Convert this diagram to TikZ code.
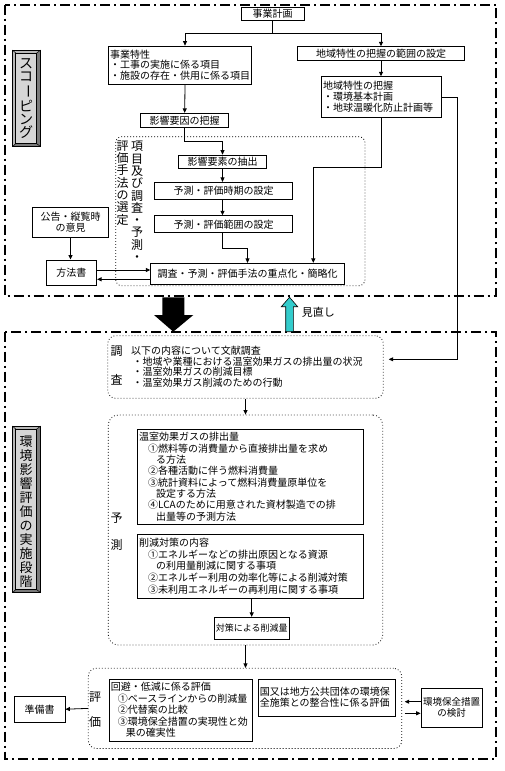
\documentclass[tikz,border=0pt]{standalone}
\usepackage{fontspec}
\setmainfont{Noto Sans CJK JP}
\usetikzlibrary{arrows.meta,calc}
\definecolor{cyanarrow}{HTML}{33CCCC}
\definecolor{bevlight}{HTML}{B8B8B8}
\definecolor{bevdark}{HTML}{7A7A7A}
\definecolor{bevface}{HTML}{D6D6D6}
\begin{document}
\begin{tikzpicture}[x=1pt,y=-1pt,
  box/.style={draw,line width=0.8pt,inner sep=1.5pt,font=\fontsize{10}{11}\selectfont,align=center},
  lbox/.style={box,align=left},
  arr/.style={line width=0.8pt,-{Triangle[length=4.5pt,width=4pt]}},
  ln/.style={line width=0.8pt},
  outerdash/.style={line width=1.6pt,dash pattern=on 10pt off 4pt on 2pt off 4pt},
  dotnode/.style={draw,line width=0.8pt,dash pattern=on 0.8pt off 2.2pt,rounded corners=8pt,inner sep=0pt},
  vt/.style={inner sep=0pt,align=center},
  side/.style={inner sep=0pt,align=center,font=\fontsize{12}{12}\selectfont}
]
\useasboundingbox (0,0) rectangle (505,771);

% ---------- outer frames ----------
\draw[outerdash] (5,4.7) rectangle (496,296);
\draw[outerdash] (5,331.7) rectangle (496,758.7);

% ---------- bevel labels ----------
\fill[bevlight] (12.3,50) -- (40.7,50) -- (36.7,53) -- (15.7,53) -- (15.7,143.7) -- (12.3,146.7) -- cycle;
\fill[bevdark] (40.7,50) -- (40.7,146.7) -- (12.3,146.7) -- (15.7,143.7) -- (36.7,143.7) -- (36.7,53) -- cycle;
\draw[fill=bevface,line width=0.5pt] (15.7,53) rectangle (36.7,143.7);
\draw[line width=0.5pt] (12.3,50) -- (15.7,53) (40.7,50) -- (36.7,53) (12.3,146.7) -- (15.7,143.7) (40.7,146.7) -- (36.7,143.7);
\draw[line width=0.8pt] (12.3,50) rectangle (40.7,146.7);
\node[vt,font=\fontsize{14}{13.3}\selectfont] (scoping) at (26.2,98.4) {ス\\コ\\\rotatebox[origin=c]{-90}{ー}\\ピ\\ン\\グ};

\fill[bevlight] (12.3,426) -- (40.7,426) -- (36.7,429) -- (15.7,429) -- (15.7,589.7) -- (12.3,592.7) -- cycle;
\fill[bevdark] (40.7,426) -- (40.7,592.7) -- (12.3,592.7) -- (15.7,589.7) -- (36.7,589.7) -- (36.7,429) -- cycle;
\draw[fill=bevface,line width=0.5pt] (15.7,429) rectangle (36.7,589.7);
\draw[line width=0.5pt] (12.3,426) -- (15.7,429) (40.7,426) -- (36.7,429) (12.3,592.7) -- (15.7,589.7) (40.7,592.7) -- (36.7,589.7);
\draw[line width=0.8pt] (12.3,426) rectangle (40.7,592.7);
\node[vt,font=\fontsize{13}{14}\selectfont] (jisshi) at (26.2,511.7) {環\\境\\影\\響\\評\\価\\の\\実\\施\\段\\階};

% ---------- scoping part ----------
\node[box,minimum width=63pt,minimum height=13pt] (plan) at (272.5,13.5) {事業計画};
\node[lbox,text width=140pt,minimum height=38.3pt,font=\fontsize{10}{10.8}\selectfont] (jigyo) at (180,65.2) {事業特性\\・工事の実施に係る項目\\・施設の存在・供用に係る項目};
\node[box,minimum width=166.6pt,minimum height=13.6pt] (hani) at (381,53.5) {地域特性の把握の範囲の設定};
\node[lbox,text width=117pt,minimum height=40.6pt] (chiiki) at (381.7,97) {地域特性の把握\\・環境基本計画\\・地球温暖化防止計画等};
\node[box,minimum width=88pt,minimum height=14.4pt] (yoin) at (184.7,120.5) {影響要因の把握};

\node[dotnode,minimum width=249.3pt,minimum height=149pt,rounded corners=6pt] (senteibox) at (240.35,211.2) {};
\node[vt,font=\fontsize{12}{12.3}\selectfont] (colR) at (137,201.4) {項\\目\\及\\び\\調\\査\\・\\予\\測\\・};
\node[vt,font=\fontsize{12}{12.3}\selectfont] (colL) at (122.7,182.9) {評\\価\\手\\法\\の\\選\\定};

\node[box,minimum width=88.4pt,minimum height=13.3pt] (yoso) at (222.5,161.7) {影響要素の抽出};
\node[box,minimum width=138.4pt,minimum height=17pt] (jiki) at (223.5,190.8) {予測・評価時期の設定};
\node[box,minimum width=138.4pt,minimum height=17pt] (han) at (223.5,224.2) {予測・評価範囲の設定};
\node[box,minimum width=193.6pt,minimum height=21pt] (juten) at (247.5,273.8) {調査・予測・評価手法の重点化・簡略化};
\node[box,minimum width=75.6pt,minimum height=29.6pt] (koukoku) at (70.5,222.5) {公告・縦覧時\\の意見};
\node[box,minimum width=50.7pt,minimum height=25.7pt] (hoho) at (71.3,272.8) {方法書};

% connectors (scoping)
\draw[ln] (plan.south) -- ++(0,13.3) coordinate (J1);
\draw[arr] (J1) -| ($(jigyo.north)+(5,0)$);
\draw[arr] (J1) -| (hani.north);
\draw[arr] (hani.south) -- (hani.south |- chiiki.north);
\draw[arr] ($(jigyo.south)+(5,0)$) -- (yoin.north);
\draw[arr] (yoin.south) -- ++(0,13.3) -| (yoso.north);
\draw[arr] (yoso.south) -- (yoso.south |- jiki.north);
\draw[arr] (jiki.south -| yoso.south) -- (han.north -| yoso.south);
\draw[arr] (han.south -| yoso.south) -- ++(0,15) -| (juten.north);
\draw[arr] (chiiki.south) -- ++(0,49.7) -| ($(juten.north)+(65.8,0)$);
\draw[arr] (koukoku.south) -- (koukoku.south |- hoho.north);
\coordinate (h1) at ($(hoho.east)+(0,-2.8)$);
\draw[arr] (h1) -- (h1 -| juten.west);
\coordinate (h2) at ($(juten.west)+(0,5.5)$);
\draw[arr] (h2) -- (h2 -| hoho.east);

% ---------- transition arrows ----------
\fill (162.3,297.3) -- (184.3,297.3) -- (184.3,315) -- (193.3,315) -- (173.3,331.7) -- (154,315) -- (162.3,315) -- cycle;
\draw[fill=cyanarrow,line width=0.6pt] (285.7,331.7) -- (293.3,331.7) -- (293.3,306.7) -- (297.7,306.7) -- (289.5,297.3) -- (281.3,306.7) -- (285.7,306.7) -- cycle;
\node[anchor=west,inner sep=0pt,font=\fontsize{11}{11}\selectfont] (minaoshi) at (301.7,312.7) {見直し};

% ---------- implementation part ----------
\node[dotnode,minimum width=275.6pt,minimum height=62.6pt] (chosa) at (245.5,367) {};
\node[side] (cho1) at (116.7,351) {調};
\node[side] (cho2) at (116.7,380) {査};
\node[anchor=west,inner sep=0pt,align=left,font=\fontsize{10}{10.4}\selectfont] (chosatext) at (131,366.7) {以下の内容について文献調査\\\hspace*{1.5pt}・地域や業種における温室効果ガスの排出量の状況\\\hspace*{1.5pt}・温室効果ガスの削減目標\\\hspace*{1.5pt}・温室効果ガス削減のための行動};
\coordinate (cr) at ($(chosa.east)+(5,-7.7)$);
\draw[arr] (chiiki.east) -- ++(15.6,0) |- (cr);

\node[dotnode,minimum width=274.4pt,minimum height=230pt,rounded corners=10pt] (yosoku) at (245.5,530) {};
\draw[arr] (chosa.south) -- (yosoku.north);
\node[side] (yo1) at (116.7,518.3) {予};
\node[side] (yo2) at (116.7,545) {測};
\node[lbox,text width=222.6pt,minimum height=94.7pt,font=\fontsize{10}{11.3}\selectfont] (haishutsu) at (250.5,476.7) {温室効果ガスの排出量\\
\hspace*{9pt}①燃料等の消費量から直接排出量を求め\\
\hspace*{17pt}る方法\\
\hspace*{9pt}②各種活動に伴う燃料消費量\\
\hspace*{9pt}③統計資料によって燃料消費量原単位を\\
\hspace*{17pt}設定する方法\\
\hspace*{9pt}④LCAのために用意された資材製造での排\\
\hspace*{17pt}出量等の予測方法};
\node[lbox,text width=222.6pt,minimum height=64.3pt,font=\fontsize{10}{11.75}\selectfont] (sakugen) at (250.5,566.2) {削減対策の内容\\
\hspace*{9pt}①エネルギーなどの排出原因となる資源\\
\hspace*{17pt}の利用量削減に関する事項\\
\hspace*{9pt}②エネルギー利用の効率化等による削減対策\\
\hspace*{9pt}③未利用エネルギーの再利用に関する事項};
\node[box,minimum width=74.7pt,minimum height=22pt,font=\fontsize{9}{10}\selectfont] (taisaku) at (251.7,628.3) {対策による削減量};
\draw[arr] (sakugen.south -| taisaku.north) -- (taisaku.north);

\node[dotnode,minimum width=313.4pt,minimum height=80.2pt] (hyoka) at (245,708.4) {};
\draw[arr] (yosoku.south) -- (yosoku.south |- hyoka.north);
\node[side] (hy1) at (95,696.7) {評};
\node[side] (hy2) at (95,721.7) {価};
\node[lbox,text width=140pt,minimum height=62pt,font=\fontsize{10}{11.5}\selectfont] (kaihi) at (180.8,710) {回避・低減に係る評価\\
\hspace*{7pt}①ベースラインからの削減量\\
\hspace*{7pt}②代替案の比較\\
\hspace*{7pt}③環境保全措置の実現性と効\\
\hspace*{15pt}果の確実性};
\node[lbox,text width=134.4pt,minimum height=37pt] (kuni) at (327,697.5) {国又は地方公共団体の環境保\\全施策との整合性に係る評価};
\node[box,minimum width=51pt,minimum height=26.3pt] (junbi) at (39.5,709.2) {準備書};
\node[box,minimum width=61pt,minimum height=39pt,font=\fontsize{9.5}{11.6}\selectfont] (hozen) at (451.5,707.5) {環境保全措置\\の検討};
\draw[arr] (hyoka.west) -- (junbi.east);
\coordinate (ev1) at ($(hyoka.east)+(2.6,0)$);
\coordinate (hz1) at ($(hozen.west)+(0,-5.8)$);
\coordinate (hz2) at ($(hozen.west)+(0,5.8)$);
\draw[arr] (hz1) -- (hz1 -| ev1);
\draw[arr] (hz2 -| ev1) -- (hz2);
\end{tikzpicture}
\end{document}
